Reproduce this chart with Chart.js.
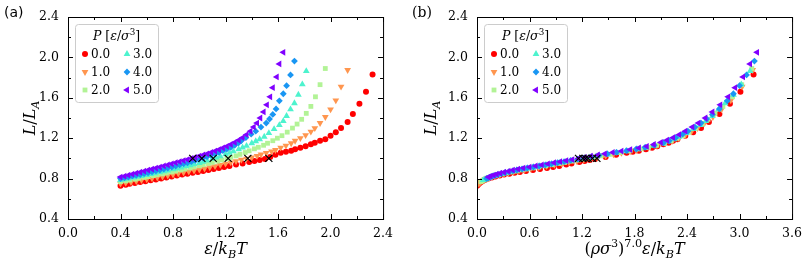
<!DOCTYPE html>
<html>
<head>
<meta charset="utf-8">
<script src="https://cdn.jsdelivr.net/npm/chart.js@4.4.1/dist/chart.umd.min.js"></script>
<style>
  html, body { margin: 0; padding: 0; background: #fff; }
  #wrap { position: relative; width: 809px; height: 266px; }
  canvas { position: absolute; top: 0; }
  #cA { left: 0; }
  #cB { left: 409px; }
</style>
</head>
<body>
<div id="wrap">
  <canvas id="cA" width="400" height="266"></canvas>
  <canvas id="cB" width="400" height="266"></canvas>
</div>
<script>
// ---- data ----
const pLabels = ["0.0", "1.0", "2.0", "3.0", "4.0", "5.0"];

// P = 0.0
const p0x  = [0.40,0.44,0.47,0.51,0.55,0.59,0.63,0.67,0.71,0.75,0.79,0.83,0.87,0.91,0.95,0.99,1.03,1.07,1.11,1.15,1.19,1.23,1.28,1.33,1.38,1.42,1.46,1.50,1.54,1.58,1.62,1.66,1.70,1.73,1.77,1.81,1.85,1.88,1.92,1.96,2.00,2.04,2.08,2.13,2.17,2.22,2.27,2.32];
const p0y  = [0.73,0.74,0.748,0.757,0.766,0.775,0.784,0.792,0.80,0.81,0.82,0.83,0.84,0.848,0.857,0.865,0.875,0.885,0.895,0.905,0.915,0.925,0.94,0.95,0.965,0.975,0.985,0.995,1.015,1.035,1.055,1.065,1.075,1.09,1.105,1.12,1.14,1.155,1.175,1.19,1.225,1.26,1.30,1.36,1.44,1.54,1.66,1.83];
const p0xb = [0.0,0.01,0.02,0.03,0.045,0.06,0.08,0.10,0.13,0.17,0.21,0.26,0.31,0.37,0.43,0.49,0.56,0.64,0.72,0.80,0.87,0.94,1.02,1.08,1.17,1.23,1.29,1.35,1.47,1.59,1.71,1.78,1.85,1.93,2.00,2.06,2.13,2.19,2.24,2.29,2.38,2.47,2.56,2.65,2.77,2.89,3.01,3.16];

// P = 1.0
const p1x  = [0.40,0.44,0.48,0.52,0.56,0.60,0.64,0.68,0.72,0.76,0.80,0.84,0.88,0.92,0.96,1.00,1.04,1.08,1.12,1.16,1.20,1.24,1.28,1.32,1.36,1.40,1.44,1.47,1.51,1.55,1.58,1.62,1.66,1.70,1.73,1.77,1.81,1.85,1.88,1.92,1.96,2.00,2.04,2.08,2.13];
const p1y  = [0.75,0.758,0.766,0.775,0.784,0.793,0.802,0.811,0.82,0.83,0.84,0.85,0.86,0.87,0.88,0.89,0.90,0.912,0.924,0.936,0.948,0.96,0.973,0.986,0.998,1.01,1.025,1.04,1.055,1.07,1.083,1.106,1.126,1.15,1.175,1.20,1.23,1.265,1.30,1.35,1.41,1.485,1.575,1.71,1.875];
const p1xb = [0.02,0.03,0.04,0.055,0.07,0.09,0.11,0.135,0.175,0.215,0.26,0.31,0.36,0.42,0.48,0.545,0.615,0.705,0.795,0.885,0.97,1.05,1.14,1.22,1.30,1.375,1.47,1.56,1.65,1.75,1.825,1.96,2.055,2.15,2.235,2.305,2.38,2.45,2.52,2.60,2.695,2.795,2.90,3.03,3.15];

// P = 2.0
const p2x  = [0.40,0.44,0.47,0.51,0.54,0.58,0.61,0.65,0.68,0.72,0.75,0.79,0.82,0.86,0.89,0.93,0.96,1.00,1.03,1.07,1.10,1.14,1.17,1.21,1.24,1.28,1.31,1.35,1.38,1.42,1.45,1.49,1.52,1.56,1.595,1.63,1.67,1.71,1.745,1.78,1.815,1.85,1.885,1.92,1.96];
const p2y  = [0.77,0.778,0.786,0.795,0.803,0.812,0.82,0.83,0.838,0.847,0.856,0.866,0.875,0.886,0.895,0.906,0.915,0.927,0.937,0.95,0.96,0.973,0.984,0.997,1.01,1.025,1.04,1.058,1.075,1.095,1.11,1.13,1.15,1.175,1.20,1.225,1.26,1.30,1.34,1.387,1.446,1.515,1.61,1.73,1.89];
const p2xb = [0.045,0.06,0.08,0.10,0.12,0.145,0.17,0.21,0.245,0.285,0.335,0.39,0.445,0.51,0.57,0.645,0.705,0.785,0.855,0.935,1.0,1.09,1.16,1.24,1.325,1.42,1.52,1.645,1.75,1.875,1.96,2.055,2.14,2.215,2.285,2.35,2.42,2.50,2.575,2.64,2.72,2.81,2.92,3.025,3.14];

// P = 3.0
const p3x  = [0.40,0.43,0.46,0.50,0.53,0.56,0.60,0.63,0.66,0.70,0.73,0.76,0.80,0.83,0.86,0.90,0.93,0.96,1.00,1.03,1.06,1.10,1.13,1.16,1.20,1.23,1.26,1.30,1.33,1.36,1.40,1.43,1.46,1.495,1.53,1.57,1.61,1.64,1.665,1.695,1.725,1.755,1.785,1.815];
const p3y  = [0.785,0.793,0.80,0.81,0.818,0.826,0.836,0.844,0.852,0.863,0.872,0.88,0.892,0.90,0.91,0.922,0.932,0.942,0.955,0.966,0.978,0.995,1.008,1.02,1.04,1.055,1.07,1.09,1.107,1.125,1.15,1.17,1.19,1.215,1.25,1.29,1.33,1.37,1.42,1.486,1.546,1.63,1.733,1.865];
const p3xb = [0.07,0.09,0.11,0.14,0.165,0.19,0.235,0.27,0.31,0.36,0.41,0.455,0.53,0.575,0.64,0.72,0.79,0.855,0.94,1.015,1.09,1.20,1.28,1.36,1.49,1.59,1.70,1.83,1.925,2.02,2.13,2.19,2.25,2.31,2.39,2.47,2.55,2.615,2.69,2.76,2.835,2.93,3.02,3.12];

// P = 4.0
const p4x  = [0.40,0.43,0.46,0.49,0.52,0.55,0.58,0.61,0.64,0.67,0.70,0.73,0.76,0.79,0.82,0.85,0.88,0.91,0.94,0.97,1.00,1.03,1.06,1.09,1.12,1.15,1.18,1.21,1.24,1.27,1.30,1.32,1.355,1.395,1.43,1.47,1.51,1.535,1.56,1.585,1.61,1.64,1.665,1.695,1.725];
const p4y  = [0.80,0.808,0.816,0.824,0.832,0.84,0.849,0.858,0.867,0.876,0.885,0.895,0.905,0.915,0.925,0.935,0.946,0.957,0.968,0.98,0.992,1.004,1.017,1.03,1.044,1.06,1.076,1.093,1.11,1.13,1.155,1.175,1.205,1.24,1.27,1.31,1.35,1.39,1.435,1.49,1.57,1.64,1.72,1.826,1.964];
const p4xb = [0.11,0.13,0.155,0.18,0.21,0.24,0.28,0.32,0.365,0.41,0.455,0.515,0.575,0.645,0.71,0.78,0.85,0.92,0.995,1.07,1.15,1.225,1.31,1.395,1.49,1.595,1.71,1.82,1.92,2.025,2.13,2.195,2.27,2.35,2.41,2.49,2.56,2.625,2.69,2.77,2.86,2.93,3.0,3.08,3.17];

// P = 5.0
const p5x  = [0.40,0.43,0.46,0.49,0.52,0.55,0.58,0.61,0.64,0.67,0.70,0.73,0.76,0.79,0.82,0.85,0.88,0.91,0.94,0.97,1.00,1.03,1.06,1.09,1.12,1.15,1.18,1.21,1.24,1.27,1.30,1.33,1.36,1.39,1.415,1.44,1.465,1.49,1.515,1.54,1.56,1.59,1.61,1.64];
const p5y  = [0.815,0.824,0.834,0.844,0.854,0.864,0.874,0.884,0.894,0.904,0.914,0.925,0.935,0.946,0.957,0.967,0.978,0.989,1.0,1.011,1.022,1.034,1.046,1.059,1.073,1.088,1.104,1.12,1.138,1.158,1.18,1.205,1.235,1.27,1.31,1.35,1.40,1.46,1.53,1.61,1.70,1.806,1.935,2.05];
const p5xb = [0.13,0.155,0.19,0.225,0.265,0.31,0.36,0.41,0.47,0.53,0.60,0.67,0.74,0.81,0.88,0.95,1.02,1.09,1.16,1.23,1.30,1.38,1.46,1.55,1.65,1.75,1.85,1.94,2.02,2.10,2.17,2.24,2.31,2.38,2.46,2.53,2.61,2.69,2.78,2.87,2.95,3.04,3.12,3.20];

// black crosses where L/L_A = 1
const crossXa = [0.95, 1.02, 1.106, 1.22, 1.37, 1.53];
const crossXb = [1.16, 1.21, 1.24, 1.27, 1.32, 1.37];
const crossY  = [1.0, 1.0, 1.0, 1.0, 1.0, 1.0];

// tick labels
const yTicks  = [0.4, 0.8, 1.2, 1.6, 2.0, 2.4];
const xTicksA = [0.0, 0.4, 0.8, 1.2, 1.6, 2.0, 2.4];
const xTicksB = [0.0, 0.6, 1.2, 1.8, 2.4, 3.0, 3.6];

// ---- styling ----
const SERIF = "'DejaVu Serif'";

const series = [
    { label: pLabels[0], xa: p0x, xb: p0xb, y: p0y, color: "#ff0000", style: "circle",   rot: 0,   r: 3.0 },
    { label: pLabels[1], xa: p1x, xb: p1xb, y: p1y, color: "#ff964f", style: "triangle", rot: 180, r: 3.9 },
    { label: pLabels[2], xa: p2x, xb: p2xb, y: p2y, color: "#b2f396", style: "rect",     rot: 0,   r: 3.4 },
    { label: pLabels[3], xa: p3x, xb: p3xb, y: p3y, color: "#4df3ce", style: "triangle", rot: 0,   r: 3.9 },
    { label: pLabels[4], xa: p4x, xb: p4xb, y: p4y, color: "#1996f3", style: "rectRot",  rot: 0,   r: 3.4 },
    { label: pLabels[5], xa: p5x, xb: p5xb, y: p5y, color: "#8000ff", style: "triangle", rot: -90, r: 3.9 }
];

function zip(xs, ys) {
    return xs.map((v, i) => ({ x: v, y: ys[i] }));
}

// draws a small piece of math: italic letters, sub- and superscripts
function mathText(ctx, parts, x, y, size, align) {
    const fontOf = p => (p.it ? "italic " : "") + (p.sub || p.sup ? size * 0.7 : size) + "px " + SERIF;
    let w = 0;
    parts.forEach(p => { ctx.font = fontOf(p); p.w = ctx.measureText(p.t).width; w += p.w; });
    let cx = align === "center" ? x - w / 2 : x;
    ctx.textAlign = "left";
    ctx.textBaseline = "alphabetic";
    parts.forEach(p => {
        ctx.font = fontOf(p);
        const dy = p.sub ? size * 0.22 : (p.sup ? -size * 0.42 : 0);
        ctx.fillText(p.t, cx, y + dy);
        cx += p.w;
    });
}

const yTitle = [{ t: "L", it: 1 }, { t: "/" }, { t: "L", it: 1 }, { t: "A", it: 1, sub: 1 }];
const xTitleA = [{ t: "ε", it: 1 }, { t: "/" }, { t: "k", it: 1 }, { t: "B", it: 1, sub: 1 }, { t: "T", it: 1 }];
const xTitleB = [{ t: "(" }, { t: "ρσ", it: 1 }, { t: "3", sup: 1 }, { t: ")" }, { t: "7.0", sup: 1 },
                 { t: "ε", it: 1 }, { t: "/" }, { t: "k", it: 1 }, { t: "B", it: 1, sub: 1 }, { t: "T", it: 1 }];
const legTitle = [{ t: "P", it: 1 }, { t: " [" }, { t: "ε", it: 1 }, { t: "/" }, { t: "σ", it: 1 }, { t: "3", sup: 1 }, { t: "]" }];

/* =======================
   PLUGINS
======================== */
// frame + inward ticks on all four sides
const framePlugin = {
    id: "frame",
    afterDraw(chart, args, opts) {
        const { ctx, chartArea: a, scales } = chart;
        ctx.save();
        ctx.strokeStyle = "#000";
        ctx.lineWidth = 1;
        ctx.beginPath();
        const xs = scales.x, ys = scales.y;
        for (let v = xs.min; v <= xs.max + 1e-9; v += opts.xMinor) {
            const px = Math.round(xs.getPixelForValue(v)) + 0.5;
            const major = Math.abs(v / opts.xStep - Math.round(v / opts.xStep)) < 1e-6;
            const len = major ? 5 : 3;
            ctx.moveTo(px, a.bottom); ctx.lineTo(px, a.bottom - len);
            ctx.moveTo(px, a.top); ctx.lineTo(px, a.top + len);
        }
        for (let v = ys.min; v <= ys.max + 1e-9; v += opts.yMinor) {
            const py = Math.round(ys.getPixelForValue(v)) + 0.5;
            const major = Math.abs((v - ys.min) / opts.yStep - Math.round((v - ys.min) / opts.yStep)) < 1e-6;
            const len = major ? 5 : 3;
            ctx.moveTo(a.left, py); ctx.lineTo(a.left + len, py);
            ctx.moveTo(a.right, py); ctx.lineTo(a.right - len, py);
        }
        ctx.stroke();
        ctx.strokeRect(a.left + 0.5, a.top + 0.5, a.right - a.left, a.bottom - a.top);

        // axis titles and panel letter
        ctx.fillStyle = "#000";
        mathText(ctx, opts.xTitle, (a.left + a.right) / 2, 254, 16, "center");
        ctx.translate(opts.yTitleX, (a.top + a.bottom) / 2);
        ctx.rotate(-Math.PI / 2);
        mathText(ctx, yTitle, 0, 5, 16, "center");
        ctx.restore();

        ctx.save();
        ctx.fillStyle = "#000";
        ctx.font = "14px " + opts.panelFont;
        ctx.textAlign = "left";
        ctx.textBaseline = "alphabetic";
        ctx.fillText(opts.panel, opts.panelX, 17);
        ctx.restore();
    }
};

// legend in two columns, filled column first
const legendPlugin = {
    id: "pLegend",
    afterDraw(chart) {
        const { ctx, chartArea: a } = chart;
        const bx = a.left + 7, by = a.top + 7, bw = 83, bh = 78;
        ctx.save();
        ctx.fillStyle = "rgba(255,255,255,0.85)";
        ctx.strokeStyle = "#cccccc";
        ctx.lineWidth = 1;
        ctx.beginPath();
        ctx.roundRect(bx + 0.5, by + 0.5, bw, bh, 3);
        ctx.fill();
        ctx.stroke();

        ctx.fillStyle = "#000";
        mathText(ctx, legTitle, bx + bw / 2, by + 16, 12.5, "center");

        series.forEach((s, i) => {
            const col = Math.floor(i / 3), row = i % 3;
            const mx = bx + 10 + col * 42;
            const my = by + 30 + row * 18;
            ctx.fillStyle = s.color;
            Chart.helpers.drawPoint(ctx, { pointStyle: s.style, rotation: s.rot, radius: s.r, borderWidth: 0 }, mx, my);
            ctx.fillStyle = "#000";
            ctx.font = "12px " + SERIF;
            ctx.textAlign = "left";
            ctx.textBaseline = "middle";
            ctx.fillText(s.label, mx + 6, my + 1);
        });
        ctx.restore();
    }
};

/* =======================
   CHARTS
======================== */
function criarGrafico(canvasId, xKey, crossX, xTicks, xMax, frameOpts) {
    const datasets = [{
        data: zip(crossX, crossY),
        pointStyle: "crossRot",
        pointRadius: 5,
        pointBorderWidth: 1.2,
        borderColor: "#000",
        backgroundColor: "#000"
    }];
    // last series first so the purple one ends up on top
    for (let i = series.length - 1; i >= 0; i--) {
        const s = series[i];
        datasets.push({
            label: s.label,
            data: zip(s[xKey], s.y),
            pointStyle: s.style,
            rotation: s.rot,
            pointRadius: s.r,
            pointBorderWidth: 0,
            backgroundColor: s.color,
            borderColor: s.color
        });
    }

    return new Chart(document.getElementById(canvasId), {
        type: "scatter",
        data: { datasets: datasets },
        options: {
            responsive: false,
            animation: false,
            events: [],
            layout: { padding: { left: 0, right: 13, top: 17, bottom: 0 } },
            plugins: { legend: { display: false }, tooltip: { enabled: false }, frame: frameOpts },
            scales: {
                x: {
                    type: "linear", min: 0, max: xMax,
                    grid: { display: false, drawTicks: false },
                    border: { display: false },
                    afterBuildTicks: sc => { sc.ticks = xTicks.map(v => ({ value: v })); },
                    afterFit: sc => { sc.height = 47; },
                    ticks: {
                        padding: 7, color: "#000", maxRotation: 0, autoSkip: false,
                        font: { family: "DejaVu Serif", size: 12.5 },
                        callback: v => v.toFixed(1)
                    }
                },
                y: {
                    type: "linear", min: 0.4, max: 2.4,
                    grid: { display: false, drawTicks: false },
                    border: { display: false },
                    afterBuildTicks: sc => { sc.ticks = yTicks.map(v => ({ value: v })); },
                    afterFit: sc => { sc.width = 68; },
                    ticks: {
                        padding: 9, color: "#000", autoSkip: false,
                        font: { family: "DejaVu Serif", size: 12.5 },
                        callback: v => v.toFixed(1)
                    }
                }
            }
        },
        plugins: [framePlugin, legendPlugin]
    });
}

criarGrafico("cA", "xa", crossXa, xTicksA, 2.4, {
    xStep: 0.4, xMinor: 0.2, yStep: 0.4, yMinor: 0.2,
    xTitle: xTitleA, yTitleX: 30, panel: "(a)", panelX: 4, panelFont: "'DejaVu Sans'"
});
criarGrafico("cB", "xb", crossXb, xTicksB, 3.6, {
    xStep: 0.6, xMinor: 0.3, yStep: 0.4, yMinor: 0.2,
    xTitle: xTitleB, yTitleX: 22, panel: "(b)", panelX: 3, panelFont: SERIF
});
</script>
</body>
</html>
